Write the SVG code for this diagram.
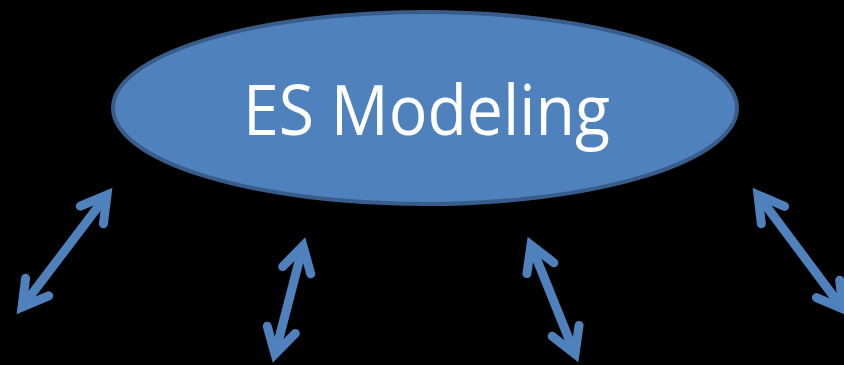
<svg xmlns="http://www.w3.org/2000/svg" width="844" height="365" viewBox="0 0 844 365">
<style>
.arrow{stroke:#4F81BD;stroke-width:9;fill:none;marker-start:url(#head);marker-end:url(#head)}
.label{font-family:"Open Sans","Liberation Sans",Arial,sans-serif;fill:#FFFFFF;font-size:70px}
</style>
<defs>
<marker id="head" markerUnits="userSpaceOnUse" orient="auto-start-reverse" refX="0" refY="0" markerWidth="60" markerHeight="60" viewBox="-30 -30 60 60" overflow="visible">
<path d="M-25,-14.5 L0,0 L-25,14.5" fill="none" stroke="#4F81BD" stroke-width="9" stroke-linecap="round" stroke-linejoin="miter"/>
</marker>
</defs>
<rect width="844" height="365" fill="#000000"/>
<g id="es-modeling">
<ellipse cx="425" cy="108" rx="312" ry="96" fill="#4F81BD" stroke="#385D8A" stroke-width="4"/>
<text class="label" x="243" y="135" textLength="367" lengthAdjust="spacingAndGlyphs">ES Modeling</text>
</g>
<g id="connectors">
<line class="arrow" x1="107" y1="195" x2="22" y2="307"/>
<line class="arrow" x1="303" y1="246" x2="275" y2="354"/>
<line class="arrow" x1="531" y1="245" x2="575" y2="354"/>
<line class="arrow" x1="758" y1="195" x2="843" y2="309"/>
</g>
</svg>
